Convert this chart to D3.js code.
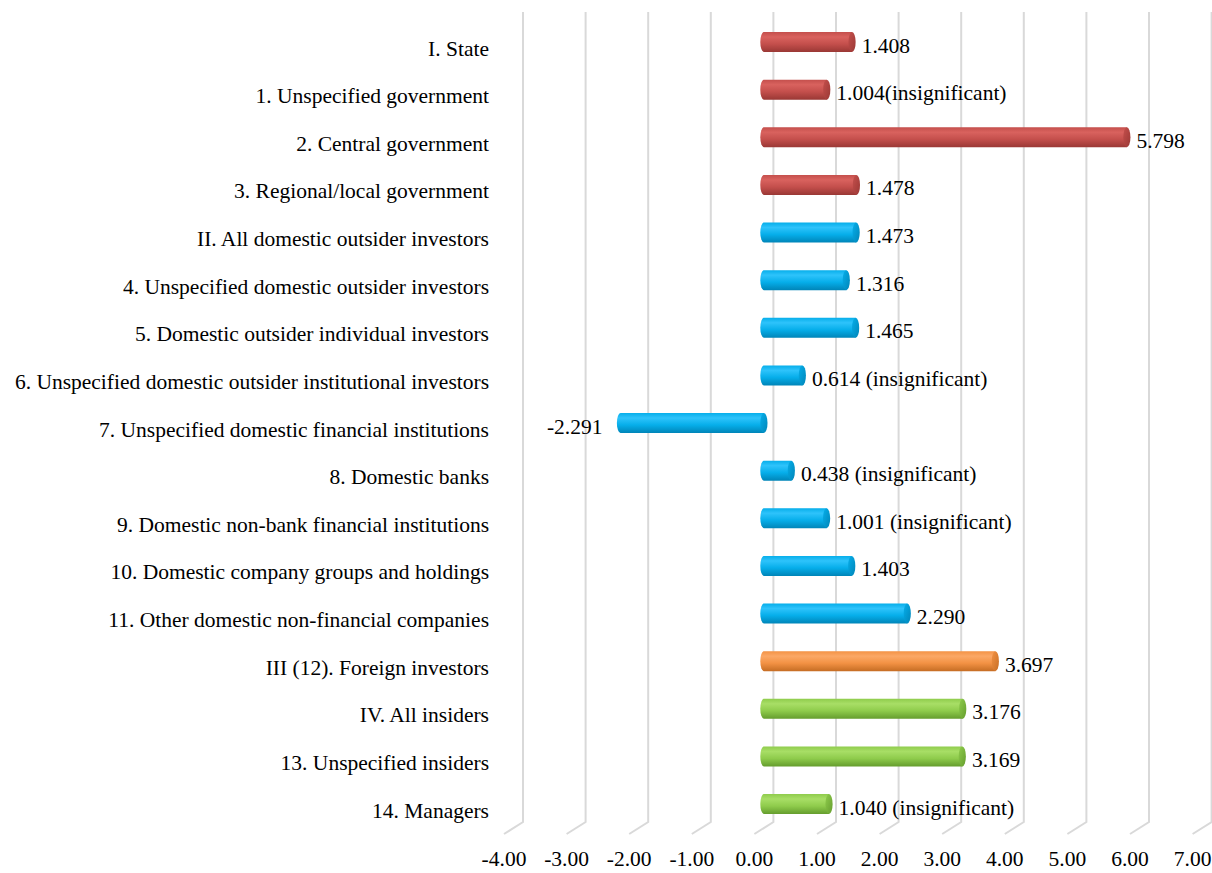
<!DOCTYPE html>
<html>
<head>
<meta charset="utf-8">
<script src="https://cdn.jsdelivr.net/npm/d3@7"></script>
<style>
  body { margin: 0; background: #fff; }
</style>
</head>
<body>
<svg id="chart" width="1212" height="873"></svg>
<script>
// categories, top to bottom
const categories = [
  "I. State",
  "1. Unspecified government",
  "2. Central government",
  "3. Regional/local government",
  "II. All domestic outsider investors",
  "4. Unspecified domestic outsider investors",
  "5. Domestic outsider individual investors",
  "6. Unspecified domestic outsider institutional investors",
  "7. Unspecified domestic financial institutions",
  "8. Domestic banks",
  "9. Domestic non-bank financial institutions",
  "10. Domestic company groups and holdings",
  "11. Other domestic non-financial companies",
  "III (12). Foreign investors",
  "IV. All insiders",
  "13. Unspecified insiders",
  "14. Managers"
];

// coefficient values
const values = [1.408, 1.004, 5.798, 1.478, 1.473, 1.316, 1.465, 0.614, -2.291,
  0.438, 1.001, 1.403, 2.290, 3.697, 3.176, 3.169, 1.040];

// text shown next to each bar
const valueLabels = ["1.408", "1.004(insignificant)", "5.798", "1.478", "1.473", "1.316",
  "1.465", "0.614 (insignificant)", "-2.291", "0.438 (insignificant)",
  "1.001 (insignificant)", "1.403", "2.290", "3.697", "3.176", "3.169",
  "1.040 (insignificant)"];

// which owner group each bar belongs to (sets the colour)
const groups = ["state", "state", "state", "state",
  "domestic", "domestic", "domestic", "domestic", "domestic", "domestic",
  "domestic", "domestic", "domestic",
  "foreign", "insiders", "insiders", "insiders"];

// x axis ticks
const ticks = [-4, -3, -2, -1, 0, 1, 2, 3, 4, 5, 6, 7];

// colours per group: light, base, dark
const palette = {
  state:    ["#d9625e", "#c44f4c", "#9a3835"],
  domestic: ["#2ec3fb", "#06aeea", "#0085b8"],
  foreign:  ["#fba866", "#f39244", "#c66d24"],
  insiders: ["#a8de66", "#8fcc4c", "#659d2e"]
};

const FONT = "'Liberation Serif', 'Times New Roman', serif";
const FS = 21.5;

const svg = d3.select("#chart");

// 3D depth offset between the front and back planes
const depthX = 19, depthY = -12;

// front-plane scale (where tick labels sit)
const x = d3.scaleLinear().domain([-4, 7]).range([504, 1192.6]);
const y = d3.scalePoint().domain(categories).range([48, 810]);

const gridTop = 12;
const floorY = 834; // front edge of the floor

// gradients
const defs = svg.append("defs");
Object.entries(palette).forEach(([key, c]) => {
  const g = defs.append("linearGradient")
    .attr("id", "body-" + key)
    .attr("x1", 0).attr("y1", 0).attr("x2", 0).attr("y2", 1);
  g.append("stop").attr("offset", "0%").attr("stop-color", c[1]);
  g.append("stop").attr("offset", "25%").attr("stop-color", c[0]);
  g.append("stop").attr("offset", "60%").attr("stop-color", c[1]);
  g.append("stop").attr("offset", "100%").attr("stop-color", c[2]);

  const cap = defs.append("linearGradient")
    .attr("id", "cap-" + key)
    .attr("x1", 0).attr("y1", 0).attr("x2", 1).attr("y2", 1);
  cap.append("stop").attr("offset", "0%").attr("stop-color", c[1]);
  cap.append("stop").attr("offset", "100%").attr("stop-color", c[2]);
});

// gridlines: back wall vertical, then down across the floor
svg.append("g").selectAll("path")
  .data(ticks)
  .join("path")
  .attr("d", t => {
    const xb = x(t) + depthX;
    return `M${xb},${gridTop} L${xb},${floorY + depthY} L${x(t)},${floorY}`;
  })
  .attr("fill", "none")
  .attr("stroke", "#d9d9d9")
  .attr("stroke-width", 2);

// tick labels
svg.append("g").selectAll("text")
  .data(ticks)
  .join("text")
  .attr("x", t => x(t))
  .attr("y", 866)
  .attr("text-anchor", "middle")
  .attr("font-family", FONT)
  .attr("font-size", FS)
  .text(t => t.toFixed(2));

// category labels
svg.append("g").selectAll("text")
  .data(categories)
  .join("text")
  .attr("x", 489)
  .attr("y", d => y(d))
  .attr("dy", "0.35em")
  .attr("text-anchor", "end")
  .attr("font-family", FONT)
  .attr("font-size", FS)
  .text(d => d);

// bars sit at half depth
const midX = v => x(v) + depthX / 2;
const barH = 20, rx = 3.6;

const bars = svg.append("g").selectAll("g")
  .data(values.map((v, i) => ({ v, i, cat: categories[i], g: groups[i], label: valueLabels[i] })))
  .join("g");

bars.append("path")
  .attr("d", d => {
    const x0 = midX(Math.min(0, d.v)), x1 = midX(Math.max(0, d.v));
    const cy = y(d.cat) + depthY / 2;
    const t = cy - barH / 2, b = cy + barH / 2;
    return `M${x1},${t} L${x0},${t} A${rx},${barH / 2} 0 0 0 ${x0},${b} L${x1},${b} Z`;
  })
  .attr("fill", d => `url(#body-${d.g})`);

bars.append("ellipse")
  .attr("cx", d => midX(Math.max(0, d.v)))
  .attr("cy", d => y(d.cat) + depthY / 2)
  .attr("rx", rx)
  .attr("ry", barH / 2)
  .attr("fill", d => `url(#cap-${d.g})`);

bars.append("text")
  .attr("x", d => d.v >= 0 ? midX(d.v) + rx + 6 : midX(d.v) - 18)
  .attr("y", d => y(d.cat) - 3)
  .attr("dy", "0.35em")
  .attr("text-anchor", d => d.v >= 0 ? "start" : "end")
  .attr("font-family", FONT)
  .attr("font-size", FS)
  .text(d => d.label);
</script>
</body>
</html>
